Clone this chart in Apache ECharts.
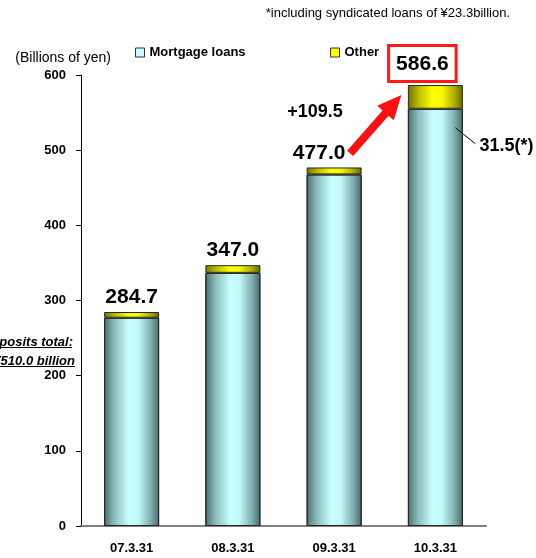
<!DOCTYPE html>
<html>
<head>
<meta charset="utf-8">
<script src="https://cdn.jsdelivr.net/npm/echarts@6/dist/echarts.min.js"></script>
<style>
  html, body { margin: 0; padding: 0; background: #fff; }
  #chart { width: 536px; height: 558px; }
</style>
</head>
<body>
<div id="chart"></div>
<script>
// Loan balance by fiscal year end (billions of yen)
const categories = ['07.3.31', '08.3.31', '09.3.31', '10.3.31'];
const mortgageLoans = [277.1, 336.8, 467.7, 555.1];
const otherLoans = [7.6, 10.2, 9.3, 31.5];
const totals = [284.7, 347.0, 477.0, 586.6];
const yTicks = [0, 100, 200, 300, 400, 500, 600];
const increaseLabel = '+109.5';
const otherNote = '31.5(*)';

const FONT = '"Liberation Sans", Arial, sans-serif';

const cyanFill = {
  type: 'linear', x: 0, y: 0, x2: 1, y2: 0,
  colorStops: [
    { offset: 0, color: '#4a7070' },
    { offset: 0.18, color: '#8abbbb' },
    { offset: 0.45, color: '#c9ffff' },
    { offset: 0.62, color: '#c2f8f8' },
    { offset: 0.85, color: '#80adad' },
    { offset: 1, color: '#466a6a' }
  ]
};
const yellowFill = {
  type: 'linear', x: 0, y: 0, x2: 1, y2: 0,
  colorStops: [
    { offset: 0, color: '#737300' },
    { offset: 0.2, color: '#bdbd00' },
    { offset: 0.45, color: '#ffff00' },
    { offset: 0.62, color: '#f8f800' },
    { offset: 0.85, color: '#abab00' },
    { offset: 1, color: '#666600' }
  ]
};

const chart = echarts.init(document.getElementById('chart'), null, { renderer: 'canvas' });

const otherData = totals.map((t, i) => {
  const item = { value: otherLoans[i] };
  if (i === 2) item.label = { offset: [-15, 0] };
  if (i === 3) {
    item.label = {
      offset: [-13, 0],
      distance: 5,
      formatter: '{box|' + t.toFixed(1) + '}',
      rich: {
        box: {
          fontFamily: FONT, fontWeight: 'bold', fontSize: 21, color: '#000',
          borderColor: '#ff1a1a', borderWidth: 3,
          padding: [7, 6, 5, 6], backgroundColor: '#fff'
        }
      }
    };
  }
  return item;
});

const legendText = { fontFamily: FONT, fontWeight: 'bold', fontSize: 13, color: '#000', padding: [1, 0, 0, 0] };

chart.setOption({
  animation: false,
  backgroundColor: '#fff',
  grid: { left: 81, right: 50, top: 75, bottom: 32, containLabel: false },
  legend: [
    {
      left: 135, top: 46, padding: 0, itemWidth: 9, itemHeight: 9, itemGap: 4,
      textStyle: legendText,
      data: [{ name: 'Mortgage loans', icon: 'rect', itemStyle: { color: '#c9ffff', borderColor: '#333', borderWidth: 1 } }],
      selectedMode: false
    },
    {
      left: 330, top: 46, padding: 0, itemWidth: 9, itemHeight: 9, itemGap: 4,
      textStyle: legendText,
      data: [{ name: 'Other', icon: 'rect', itemStyle: { color: '#ffff00', borderColor: '#333', borderWidth: 1 } }],
      selectedMode: false
    }
  ],
  xAxis: {
    type: 'category',
    data: categories,
    axisLine: { lineStyle: { color: '#808080', width: 2 } },
    axisTick: { inside: true, length: 4, lineStyle: { color: '#555', width: 1 } },
    axisLabel: { margin: 16, fontFamily: FONT, fontWeight: 'bold', fontSize: 13, color: '#000' }
  },
  yAxis: {
    type: 'value',
    min: yTicks[0],
    max: yTicks[yTicks.length - 1],
    interval: yTicks[1] - yTicks[0],
    splitLine: { show: false },
    axisLine: { show: true, lineStyle: { color: '#000', width: 1 } },
    axisTick: { show: true, length: 5, lineStyle: { color: '#000' } },
    axisLabel: { margin: 15, fontFamily: FONT, fontWeight: 'bold', fontSize: 13, color: '#000' }
  },
  series: [
    {
      name: 'Mortgage loans',
      type: 'bar',
      stack: 'loans',
      barWidth: 55,
      data: mortgageLoans,
      itemStyle: { color: cyanFill, borderColor: '#262626', borderWidth: 1 }
    },
    {
      name: 'Other',
      type: 'bar',
      stack: 'loans',
      barWidth: 55,
      data: otherData,
      itemStyle: { color: yellowFill, borderColor: '#262626', borderWidth: 1 },
      label: {
        show: true,
        position: 'top',
        distance: 4,
        fontFamily: FONT, fontWeight: 'bold', fontSize: 21, color: '#000',
        formatter: p => totals[p.dataIndex].toFixed(1)
      }
    }
  ]
});

// Annotations placed from the axis scales
function drawAnnotations() {
  const p3 = chart.convertToPixel({ seriesIndex: 1 }, [2, totals[2]]);
  const p4 = chart.convertToPixel({ seriesIndex: 1 }, [3, totals[3]]);
  const seam4 = chart.convertToPixel({ seriesIndex: 0 }, [3, mortgageLoans[3]]);

  // red growth arrow
  const sx = p3[0] + 16, sy = p3[1] - 14;
  const ex = p4[0] - 34, ey = p4[1] + 10;
  const dx = ex - sx, dy = ey - sy;
  const len = Math.hypot(dx, dy);
  const ux = dx / len, uy = dy / len;
  const nx = -uy, ny = ux;
  const shaft = 4, headLen = 24, headHalf = 11;
  const bx = ex - ux * headLen, by = ey - uy * headLen;
  const arrowPts = [
    [sx + nx * shaft, sy + ny * shaft],
    [bx + nx * shaft, by + ny * shaft],
    [bx + nx * headHalf, by + ny * headHalf],
    [ex, ey],
    [bx - nx * headHalf, by - ny * headHalf],
    [bx - nx * shaft, by - ny * shaft],
    [sx - nx * shaft, sy - ny * shaft]
  ];

  const noteStyle = { fontFamily: FONT, fontSize: 13, fontWeight: 'bold', fontStyle: 'italic', fill: '#000', align: 'right', verticalAlign: 'middle' };

  chart.setOption({
    graphic: [
      {
        type: 'text', right: 26, top: 7,
        style: { text: '*including syndicated loans of ¥23.3billion.', fontFamily: FONT, fontSize: 13, fill: '#000' }
      },
      {
        type: 'text', x: 111, y: 58,
        style: { text: '(Billions of yen)', fontFamily: FONT, fontSize: 14, fill: '#000', align: 'right', verticalAlign: 'middle' }
      },
      { type: 'text', x: 73, y: 342, style: Object.assign({ text: 'Deposits total:' }, noteStyle) },
      { type: 'text', x: 75, y: 361, style: Object.assign({ text: '¥510.0 billion' }, noteStyle) },
      { type: 'line', shape: { x1: 0, y1: 347.5, x2: 72, y2: 347.5 }, style: { stroke: '#000', lineWidth: 1 } },
      { type: 'line', shape: { x1: 0, y1: 366.5, x2: 75, y2: 366.5 }, style: { stroke: '#000', lineWidth: 1 } },
      {
        type: 'text', x: p3[0] - 47, y: p3[1] - 55,
        style: { text: increaseLabel, fontFamily: FONT, fontSize: 18, fontWeight: 'bold', fill: '#000', verticalAlign: 'middle' }
      },
      {
        type: 'polygon', shape: { points: arrowPts }, style: { fill: '#ff1010' }, z: 10
      },
      {
        type: 'line',
        shape: { x1: seam4[0] + 20, y1: seam4[1] + 19, x2: seam4[0] + 40, y2: seam4[1] + 35 },
        style: { stroke: '#000', lineWidth: 1 }, z: 10
      },
      {
        type: 'text', x: seam4[0] + 44, y: seam4[1] + 37,
        style: { text: otherNote, fontFamily: FONT, fontSize: 18, fontWeight: 'bold', fill: '#000', verticalAlign: 'middle' }
      }
    ]
  });
}
drawAnnotations();
</script>
</body>
</html>
